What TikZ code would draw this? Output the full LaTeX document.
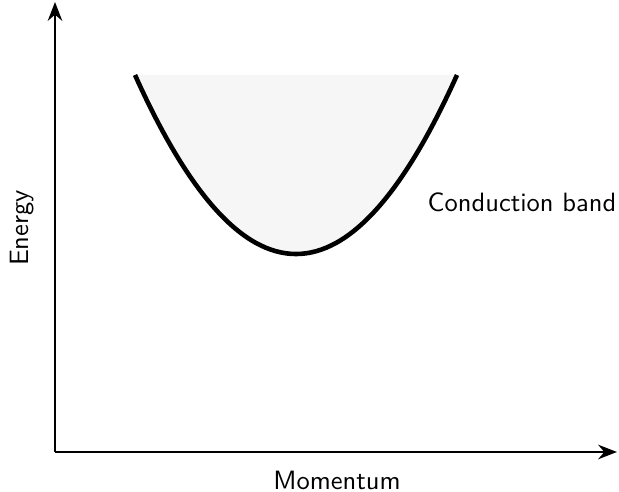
\documentclass[tikz,border=0pt]{standalone}
\usepackage{tikz}
\usetikzlibrary{arrows.meta,positioning,calc}
\renewcommand{\familydefault}{\sfdefault}
\definecolor{bandfill}{HTML}{F6F6F6}
\tikzset{
  axis/.style={-{Stealth[length=2.6mm,width=2mm]}, line width=0.8pt, draw=black},
  bandline/.style={line width=1.8pt, draw=black},
  lbl/.style={font=\fontsize{10.4}{12}\selectfont\sffamily},
}
\begin{document}
\begin{tikzpicture}[x=0.0138cm, y=0.0138cm]
  \useasboundingbox (0,0) rectangle (619,492);
  \coordinate (O) at (55,40);
  \coordinate (ytop) at (55,490);
  \coordinate (xend) at (617,40);
  \coordinate (bl) at (135,417);
  \coordinate (br) at (457,417);
  % conduction band
  \path[fill=bandfill] (bl) .. controls (242.3,178.3) and (349.7,178.3) .. (br) -- cycle;
  \draw[bandline] (bl) .. controls (242.3,178.3) and (349.7,178.3) .. (br);
  % axes
  \draw[axis] (O) -- (ytop);
  \draw[axis] (O) -- (xend);
  \node[lbl, rotate=90] (en) at (22,264) {Energy};
  \node[lbl] (mo) at (337,12) {Momentum};
  \node[lbl] (cb) at (522,290) {Conduction band};
\end{tikzpicture}
\end{document}
